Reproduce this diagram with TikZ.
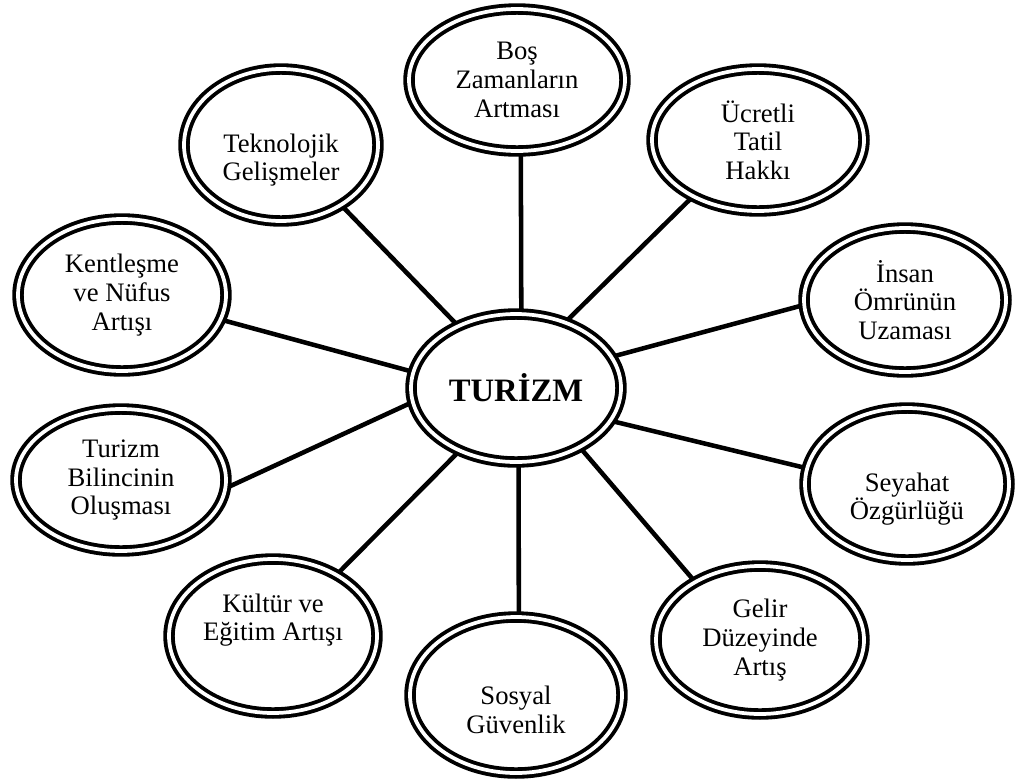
\documentclass[tikz,border=0pt]{standalone}
\usepackage{fontspec}
\setmainfont{Liberation Serif}
\usetikzlibrary{shapes.geometric,backgrounds}
\begin{document}
\begin{tikzpicture}[x=0.75pt,y=-0.75pt,
  bub/.style={ellipse, draw=black, line width=2.9pt, double=white, double distance=2.8pt,
    fill=white, inner sep=0pt, align=center, font=\fontsize{20}{21.5}\selectfont},
  link/.style={line width=3.4pt}]
\useasboundingbox (0,0) rectangle (1016,779);
\node[bub, minimum width=157.5pt, minimum height=111pt, font=\fontsize{24.5}{28}\selectfont\bfseries] (c) at (516,388) {TURİZM};
\node[bub, minimum width=162pt, minimum height=106.5pt] (bos) at (517,80) {Boş\\Zamanların\\Artması};
\node[bub, minimum width=145.5pt, minimum height=114pt] (tek) at (281,145) {\strut\\Teknolojik\\Gelişmeler};
\node[bub, minimum width=159pt, minimum height=106.5pt] (ucr) at (758,140) {Ücretli\\Tatil\\Hakkı};
\node[bub, minimum width=156pt, minimum height=114pt] (ken) at (122,295) {Kentleşme\\ve Nüfus\\Artışı};
\node[bub, minimum width=151.5pt, minimum height=108pt] (ins) at (905,300) {İnsan\\Ömrünün\\Uzaması};
\node[bub, minimum width=157.5pt, minimum height=106.5pt] (bil) at (121,480) {Turizm\\Bilincinin\\Oluşması};
\node[bub, minimum width=153pt, minimum height=114pt] (sey) at (907,484) {\strut\\Seyahat\\Özgürlüğü};
\node[bub, minimum width=156pt, minimum height=115.5pt] (kul) at (273,636) {Kültür ve\\Eğitim Artışı\\\strut};
\node[bub, minimum width=159pt, minimum height=117pt] (sos) at (516,695) {\strut\\Sosyal\\Güvenlik};
\node[bub, minimum width=156pt, minimum height=111pt] (gel) at (760,640) {Gelir\\Düzeyinde\\Artış};
\begin{pgfonlayer}{background}
\draw[link] (c.86) -- (bos.273);
\draw[link] (c.133) -- (tek.315);
\draw[link] (c.53) -- (ucr.221);
\draw[link] (c.171) -- (ken.346);
\draw[link] (c.18) -- (ins.183);
\draw[link] (c.188) -- (bil.356);
\draw[link] (c.341) -- (sey.171);
\draw[link] (c.228) -- (kul.44);
\draw[link] (c.272) -- (sos.88);
\draw[link] (c.317) -- (gel.138);
\end{pgfonlayer}
\end{tikzpicture}
\end{document}
